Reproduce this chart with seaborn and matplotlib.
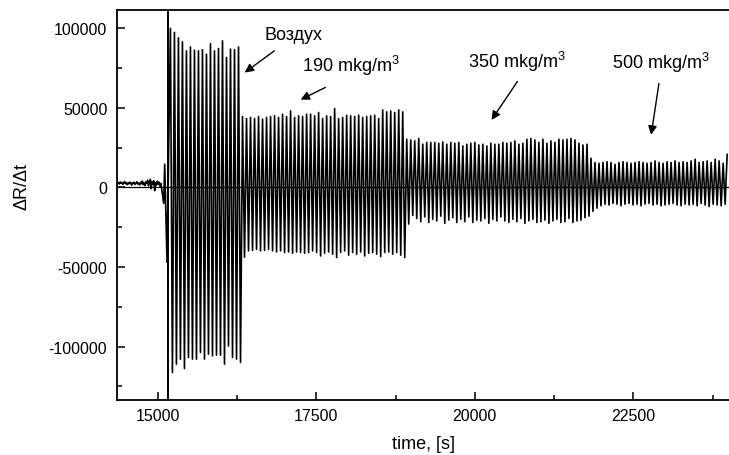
import numpy as np
import pandas as pd
import matplotlib
matplotlib.use("Agg")
import matplotlib.pyplot as plt
import seaborn as sns

# --- data ---
# baseline noise before the gas pulses start
noise_start = 14360
noise_step = 14
noise_vals = [2500, 3000, 2200, 3500, 2800, 3200, 2000, 2600, 3800, 2400,
              3000, 1800, 2900, 2300, 3400, 2700, 1500, 3100, 2500, 3300,
              1900, 2800, 3600, 2200, 2700, 1600, 3200, 2400, 4000, 1800,
              2900, 1200, 3500, 2600, 4500, 1000, 3000, 5200, -800, 3800,
              2000, 4200, -2000, 3000, 1500, 4000, 2200, 3300, 800, 2500]

# onset spikes just before the first pulse
onset_t = [15090, 15106, 15142]
onset_vals = [-10000, 14600, -47000]

# pulse cycles (peak then trough), one cycle every ~63 s
first_peak_t = 15196
period = 63.2

air_peaks = [99900, 97400, 94000, 91500, 85800, 88300, 86200, 85800, 86500,
             83700, 90400, 85800, 87300, 92100, 81700, 86900, 86500, 88300]
air_troughs = [-116200, -111000, -107800, -113700, -106800, -107800, -107800,
               -103600, -107800, -104700, -105800, -105300, -105300, -111000,
               -99500, -106800, -107800, -109900]

c190_peaks = [44600, 43300, 44000, 43300, 44600, 42900, 44000, 44600, 45000,
              44000, 46000, 44600, 48100, 44000, 45000, 44600, 46000,
              46000, 45000, 47100, 43300, 45000, 44600, 49600, 43300, 44000,
              45400, 45000, 44600, 45400, 44000, 44600, 45000, 45400, 43300,
              48700, 47500, 48100, 47100, 48700, 47500]
c190_troughs = [-43800, -39800, -39500, -38800, -39800, -39500, -38800, -39800,
                -40500, -39800, -40800, -40500, -41300, -40500, -40800, -41300,
                -40800, -39800, -40800, -43000, -41300, -40500, -41900, -44000,
                -40800, -39800, -42500, -40800, -41900, -40500, -43000, -41300,
                -40800, -41900, -43400, -40800, -40500, -41900, -40800, -42500,
                -44000]

c350_peaks = [30300, 29900, 29300, 30800, 27200, 28300, 28300, 28300, 27800,
              28600, 27200, 28300, 27800, 28300, 26100, 27200, 27800, 28300,
              26700, 27200, 26100, 27800, 27200,
              27200, 28300, 27800, 28300, 29300, 27200, 27800, 30300, 30800,
              29900, 28300, 30300, 27800, 29300, 28300, 30300, 29900, 30300,
              30800, 29900, 27800, 26700, 27200]
c350_troughs = [-23000, -17500, -19500, -21500, -18500, -22000, -20000, -21000,
                -18000, -22500, -20500, -19000, -22000, -20000, -21500, -18500,
                -22000, -20500, -21000, -19500, -22500, -20000, -21000,
                -18500, -21000, -22000, -20000, -21500, -19500, -22500, -21000,
                -20000, -22000, -21500, -20500, -22500, -21000, -20000, -22000,
                -21500, -19500, -22000, -21000, -20500, -19000, -18000]

c500_peaks = [18400, 15700, 15200, 15700, 16200, 15700, 14600, 15700, 16200,
              15700, 15200, 15700, 16200, 15700, 15200, 15700, 16700, 15700,
              15200, 16200, 15700, 16700, 15700, 16200, 15700, 16700, 17800,
              15700, 16200, 16700, 15700, 17800, 16700, 15200]
c500_troughs = [-15000, -13000, -11500, -10500, -11000, -10000, -10500, -11500,
                -10500, -10000, -11000, -10500, -11500, -10500, -10000, -11000,
                -10500, -11500, -11000, -10500, -10000, -11000, -11500, -10500,
                -11000, -10500, -11500, -10000, -11000, -12000, -10500, -11000,
                -11500, -10500]
last_peak = 20900

switch_t = 15164  # vertical marker where pulses begin

labels = ["Воздух", "190 mkg/m$^3$", "350 mkg/m$^3$", "500 mkg/m$^3$"]

# --- assemble the series ---
t_list = [noise_start + noise_step * i for i in range(len(noise_vals))] + onset_t
v_list = noise_vals + onset_vals
peaks = air_peaks + c190_peaks + c350_peaks + c500_peaks
troughs = air_troughs + c190_troughs + c350_troughs + c500_troughs
for k, (p, q) in enumerate(zip(peaks, troughs)):
    tp = first_peak_t + period * k
    t_list += [tp, tp + period / 2]
    v_list += [p, q]
t_list.append(first_peak_t + period * len(peaks))
v_list.append(last_peak)
df = pd.DataFrame({"time": t_list, "dRdt": v_list})

# --- plot ---
sns.set_style("ticks")
plt.rcParams["font.family"] = ["Liberation Sans", "DejaVu Sans"]
plt.rcParams["mathtext.fontset"] = "custom"
plt.rcParams["mathtext.rm"] = "Liberation Sans"
plt.rcParams["mathtext.it"] = "Liberation Sans:italic"
plt.rcParams["axes.unicode_minus"] = False
plt.rcParams["text.color"] = "black"
plt.rcParams["axes.labelcolor"] = "black"

fig = plt.figure(figsize=(7.29, 4.56), dpi=100)
ax = fig.add_axes([117 / 729, 55 / 456, 612 / 729, 390 / 456])

sns.lineplot(data=df, x="time", y="dRdt", estimator=None, sort=False,
             color="black", lw=1.2, ax=ax)
ax.axhline(0, color="black", lw=0.9)
ax.axvline(switch_t, color="black", lw=1.4)

ax.set_xlim(14353, 24010)
ax.set_ylim(-133500, 111500)
ax.set_xticks([15000, 17500, 20000, 22500])
ax.set_xticks([16250, 18750, 21250, 23750], minor=True)
ax.set_yticks([-100000, -50000, 0, 50000, 100000])
ax.set_yticks([-125000, -75000, -25000, 25000, 75000], minor=True)
ax.tick_params(which="both", direction="in", colors="black", labelsize=11.5,
               width=1.1)
ax.tick_params(which="major", length=6)
ax.tick_params(which="minor", length=3.5)
ax.tick_params(axis="y", pad=7)
ax.tick_params(axis="x", pad=6)

for side in ["left", "top", "bottom"]:
    ax.spines[side].set_linewidth(1.3)
    ax.spines[side].set_color("black")
ax.spines["right"].set_visible(False)

ax.set_xlabel("time, [s]", fontsize=13)
ax.set_ylabel("ΔR/Δt", fontsize=13)
ax.xaxis.set_label_coords(0.5, -0.09)
ax.yaxis.set_label_coords(-0.142, 0.55)

# arrows (head, tail) and label positions
arrow = dict(arrowstyle="-|>", color="black", lw=1.0, mutation_scale=13)
heads = [(16333, 71160), (17211, 54390), (20238, 41010), (22775, 31400)]
tails = [(16870, 86870), (17680, 63630), (20696, 68020), (22911, 66960)]
text_pos = [(16685, 93460), (17280, 73050), (19890, 75870), (22159, 74930)]
for lab, h, tl, tp in zip(labels, heads, tails, text_pos):
    ax.annotate("", xy=h, xytext=tl, arrowprops=arrow)
    ax.text(tp[0], tp[1], lab, fontsize=13, ha="left", va="baseline")

fig.savefig("out.png", dpi=100)
